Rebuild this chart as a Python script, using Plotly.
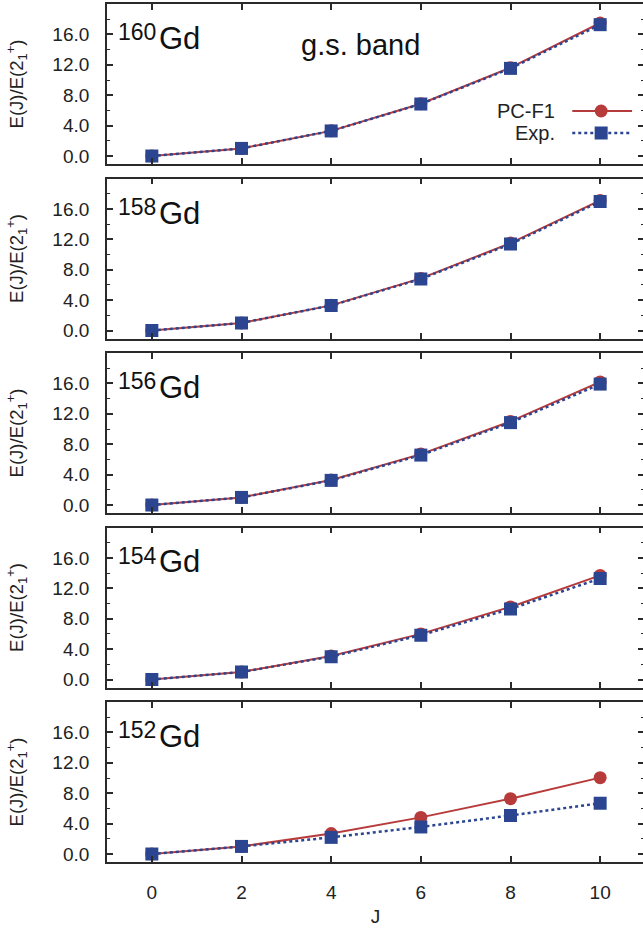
import plotly.graph_objects as go

# ---------------- data ----------------
J = [0, 2, 4, 6, 8, 10]
isotopes = ["160", "158", "156", "154", "152"]
element = "Gd"

pcf1_160 = [0.0, 1.0, 3.31, 6.88, 11.62, 17.50]
exp_160 = [0.0, 1.0, 3.30, 6.84, 11.53, 17.28]
pcf1_158 = [0.0, 1.0, 3.31, 6.86, 11.50, 17.12]
exp_158 = [0.0, 1.0, 3.29, 6.78, 11.37, 16.97]
pcf1_156 = [0.0, 1.0, 3.30, 6.70, 11.00, 16.20]
exp_156 = [0.0, 1.0, 3.24, 6.57, 10.84, 15.91]
pcf1_154 = [0.0, 1.0, 3.10, 6.00, 9.55, 13.70]
exp_154 = [0.0, 1.0, 3.01, 5.83, 9.29, 13.30]
pcf1_152 = [0.0, 1.0, 2.70, 4.82, 7.28, 10.05]
exp_152 = [0.0, 1.0, 2.19, 3.56, 5.07, 6.68]

pcf1_all = [pcf1_160, pcf1_158, pcf1_156, pcf1_154, pcf1_152]
exp_all = [exp_160, exp_158, exp_156, exp_154, exp_152]

y_ticks = [0, 4, 8, 12, 16]
x_ticks = [0, 2, 4, 6, 8, 10]
series_names = ["PC-F1", "Exp."]
band_label = "g.s. band"
y_title = "E(J)/E(2<sub>1</sub><sup>+</sup>)"
x_title = "J"

# ---------------- style ----------------
W, H = 646, 929
ML, MR, MT, MB = 107, 0, 4, 67
PW = W - ML - MR
PH = H - MT - MB
PANEL_H = 160
GAP = 14.5
RED = "#B83B3B"
BLUE = "#2B4590"
AX = "#2a2a2a"
FONT = "Liberation Sans, Arial, Helvetica, sans-serif"


def px_x(p):
    return (p - ML) / PW


def px_y(p):
    return (H - MB - p) / PH


fig = go.Figure()
layout = dict(
    width=W, height=H,
    margin=dict(l=ML, r=MR, t=MT, b=MB, pad=0),
    plot_bgcolor="white", paper_bgcolor="white",
    showlegend=False,
    font=dict(family=FONT, color="#222", size=19),
)

annotations = []
for k, iso in enumerate(isotopes):
    n = k + 1
    xa = "x" if n == 1 else f"x{n}"
    ya = "y" if n == 1 else f"y{n}"
    top = MT + k * (PANEL_H + GAP)
    bot = top + PANEL_H
    fig.add_trace(go.Scatter(
        x=J, y=pcf1_all[k], mode="lines+markers", name=series_names[0],
        line=dict(color=RED, width=2),
        marker=dict(symbol="circle", size=13, color=RED),
        xaxis=xa, yaxis=ya))
    fig.add_trace(go.Scatter(
        x=J, y=exp_all[k], mode="lines+markers", name=series_names[1],
        line=dict(color=BLUE, width=2.5, dash="dot"),
        marker=dict(symbol="square", size=13, color=BLUE),
        xaxis=xa, yaxis=ya))

    last = (k == len(isotopes) - 1)
    layout[f"xaxis{'' if n == 1 else n}"] = dict(
        domain=[0, 1], anchor=ya, range=[-1, (W - MR - 152) / 45.0],
        tickvals=x_ticks, ticks="inside", ticklen=6, tickwidth=1.5,
        tickcolor=AX, showline=True, linecolor=AX, linewidth=1.8,
        mirror="ticks", showgrid=False, zeroline=False,
        showticklabels=last, ticklabelstandoff=12,
        tickfont=dict(size=19, color="#222"),
        title=dict(text=x_title if last else "", font=dict(size=19), standoff=8),
        matches="x" if n != 1 else None,
    )
    layout[f"yaxis{'' if n == 1 else n}"] = dict(
        domain=[px_y(bot), px_y(top)], anchor=xa, range=[-1.05, 20],
        tickvals=y_ticks, tickformat=".1f", ticks="inside", ticklen=6,
        tickwidth=1.5, tickcolor=AX, showline=True, linecolor=AX,
        linewidth=1.8, mirror="ticks", showgrid=False, zeroline=False,
        ticklabelstandoff=12, tickfont=dict(size=19, color="#222"),
        minor=dict(tickvals=[2, 6, 10, 14, 18], ticks="inside", ticklen=3.5,
                   tickwidth=1.2, tickcolor=AX),
        title=dict(text=y_title, font=dict(size=18.5), standoff=24),
    )
    # isotope label
    annotations.append(dict(
        text=iso, x=px_x(116), y=px_y(top + 13), xref="paper", yref="paper",
        xanchor="left", yanchor="top", showarrow=False,
        font=dict(size=23, color="#111")))
    annotations.append(dict(
        text=element, x=px_x(157), y=px_y(top + 46), xref="paper", yref="paper",
        xanchor="left", yanchor="bottom", showarrow=False, yshift=-8,
        font=dict(size=31, color="#111")))

annotations.append(dict(
    text=band_label, x=px_x(361), y=px_y(45), xref="paper", yref="paper",
    xanchor="center", yanchor="middle", showarrow=False,
    font=dict(size=29, color="#111")))

# legend (drawn manually: text to the left of the sample)
shapes = []
leg_rows = [(series_names[0], 111, RED, "circle", "solid"),
            (series_names[1], 133, BLUE, "rect", "dot")]
for name, yy, col, sym, dash in leg_rows:
    annotations.append(dict(
        text=name, x=px_x(559), y=px_y(yy), xref="paper", yref="paper",
        xanchor="right", yanchor="middle", showarrow=False,
        font=dict(size=20, color="#222")))
    shapes.append(dict(type="line", xref="paper", yref="paper",
                       x0=px_x(574), x1=px_x(634), y0=px_y(yy), y1=px_y(yy),
                       line=dict(color=col, width=2.5 if dash == "dot" else 2,
                                 dash=dash)))
    shapes.append(dict(type=sym, xref="paper", yref="paper",
                       xsizemode="pixel", ysizemode="pixel",
                       xanchor=px_x(603), yanchor=px_y(yy),
                       x0=-6.5, x1=6.5, y0=-6.5, y1=6.5,
                       fillcolor=col, line=dict(width=0)))

layout["annotations"] = annotations
layout["shapes"] = shapes
fig.update_layout(**layout)
fig.write_html(
    "out.html",
    config={"displayModeBar": False},
    post_script=("document.body.style.margin='0';"
                 "document.body.style.padding='0';"
                 "document.body.style.overflow='hidden';"),
)
